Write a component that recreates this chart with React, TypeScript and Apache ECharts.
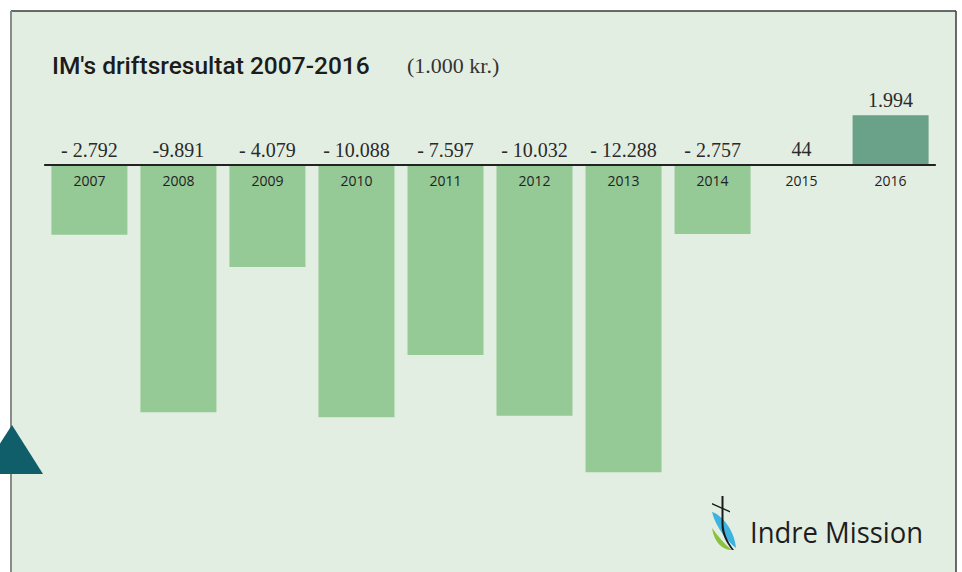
import React, { useEffect, useRef } from "react";
import * as echarts from "echarts";

const categories = ["2007", "2008", "2009", "2010", "2011", "2012", "2013", "2014", "2015", "2016"];
const values = [-2792, -9891, -4079, -10088, -7597, -10032, -12288, -2757, 44, 1994];
const valueLabels = ["- 2.792", "-9.891", "- 4.079", "- 10.088", "- 7.597", "- 10.032", "- 12.288", "- 2.757", "44", "1.994"];
const titleText = "IM's driftsresultat 2007-2016";
const unitText = "(1.000 kr.)";
const logoText = "Indre Mission";

const BAR_LIGHT = "#95c995";
const BAR_DARK = "#6aa189";
const PANEL = "#e3eee2";

const blueLeaf = "M4,18 C12,20 26,34 28,54 C20,48 8,34 4,18 Z";
const greenLeaf = "M4,34 C10,42 16,50 24,56 C14,56 6,48 4,34 Z";
const crossStem = "M13.5,2 L15.5,2 L15.5,30 C16,40 20,48 26,56 L24,56 C18,48 13.5,40 13.5,30 Z";
const crossBar = "M4,9 L22,17 L22,18.5 L4,10.5 Z";

let registered = false;
function registerShapes() {
  if (registered) return;
  registered = true;
  echarts.graphic.registerShape("imBlue", echarts.graphic.extendPath(blueLeaf, {}));
  echarts.graphic.registerShape("imGreen", echarts.graphic.extendPath(greenLeaf, {}));
  echarts.graphic.registerShape("imStem", echarts.graphic.extendPath(crossStem, {}));
  echarts.graphic.registerShape("imBar", echarts.graphic.extendPath(crossBar, {}));
}

export default function App() {
  const ref = useRef<HTMLDivElement>(null);
  useEffect(() => {
    if (!ref.current) return;
    registerShapes();
    const chart = echarts.init(ref.current, undefined, { renderer: "svg" });
    chart.setOption({
      animation: false,
      backgroundColor: "#ffffff",
      graphic: [
        { type: "rect", z: -10, silent: true, shape: { x: 11, y: 11, width: 945, height: 580 }, style: { fill: PANEL } },
        { type: "line", z: 10, shape: { x1: 11, y1: 11, x2: 956, y2: 11 }, style: { stroke: "#3a3a3a", lineWidth: 1.5 } },
        { type: "line", z: 10, shape: { x1: 956, y1: 11, x2: 956, y2: 580 }, style: { stroke: "#3a3a3a", lineWidth: 1.5 } },
        { type: "line", z: 10, shape: { x1: 11, y1: 11, x2: 11, y2: 580 }, style: { stroke: "#8a8a8a", lineWidth: 2 } },
        { type: "polygon", z: 11, shape: { points: [[-20, 474], [43, 474], [12, 425]] }, style: { fill: "#0f5e69" } },
        {
          type: "text", x: 52, y: 65,
          style: { text: titleText, fill: "#1c1c1c", font: "500 24.5px Roboto", textVerticalAlign: "middle" },
        },
        {
          type: "text", x: 407, y: 65,
          style: { text: unitText, fill: "#333333", font: "22px 'Liberation Serif'", textVerticalAlign: "middle" },
        },
        {
          type: "text", x: 750, y: 531, scaleX: 0.915,
          style: { text: logoText, fill: "#1e1e1e", font: "30px 'Open Sans'", textVerticalAlign: "middle" },
        },
        { type: "imBlue", x: 708, y: 494, style: { fill: "#3db3e0" } },
        { type: "imGreen", x: 708, y: 494, style: { fill: "#8cc03f" } },
        { type: "imStem", x: 708, y: 494, style: { fill: "#1a1a1a" } },
        { type: "imBar", x: 708, y: 494, style: { fill: "#1a1a1a" } },
      ],
      grid: { left: 44.9, right: 26.9, top: 65, height: 450, containLabel: false },
      xAxis: {
        type: "category",
        data: categories,
        position: "bottom",
        offset: -350,
        axisLine: { onZero: false, lineStyle: { color: "#222222", width: 2 } },
        axisTick: { show: false },
        axisLabel: { color: "#222222", fontSize: 14, fontFamily: "'Open Sans'", margin: 8, interval: 0 },
        z: 5,
      },
      yAxis: {
        type: "value",
        min: -14000,
        max: 4000,
        show: false,
        splitLine: { show: false },
      },
      series: [
        {
          type: "bar",
          barWidth: 76,
          data: values.map((v) => ({ value: v, itemStyle: { color: v >= 0 ? BAR_DARK : BAR_LIGHT } })),
          label: {
            show: true,
            position: "top",
            distance: 5,
            color: "#2a2a2a",
            fontSize: 20,
            fontFamily: "'Liberation Serif'",
            formatter: (p: any) => valueLabels[p.dataIndex],
          },
        },
      ],
    });
    return () => chart.dispose();
  }, []);
  return <div ref={ref} style={{ position: "absolute", left: 0, top: 0, width: 962, height: 572 }} />;
}
